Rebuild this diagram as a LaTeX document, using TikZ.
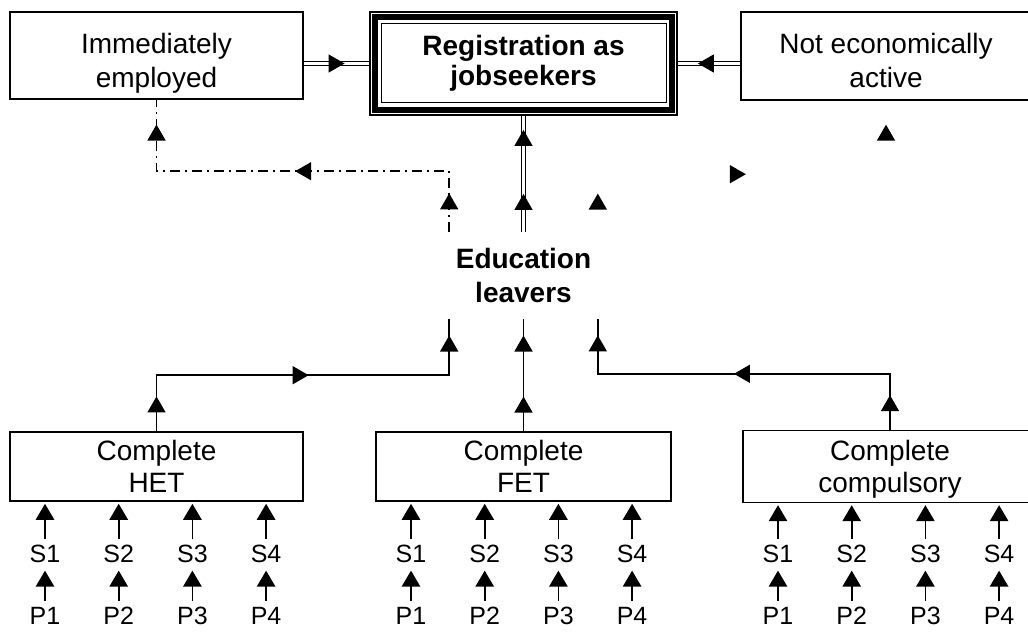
\documentclass[tikz,border=0pt]{standalone}
\usepackage{fontspec}
\setmainfont{Liberation Sans}
\usetikzlibrary{arrows.meta, decorations.markings}

\newcommand{\midtriangle}{\fill[solid] (4pt,0pt) -- (-4pt,4.6pt) -- (-4pt,-4.6pt) -- cycle;}

\begin{document}
\begin{tikzpicture}[x=0.5pt, y=-0.5pt, line width=0.8pt,
        box/.style={draw, align=center, inner sep=2pt, font=\fontsize{14}{17}\selectfont},
        lbl/.style={inner sep=2.5pt, font=\fontsize{12.5}{15}\selectfont},
        up/.style={-{Triangle[length=8pt, width=9.2pt]}, shorten >=1pt},
        dbl/.style={double, double distance=1.1pt, line width=0.6pt},
        dashdot/.style={dash pattern=on 5pt off 2.5pt on 1pt off 2.5pt},
        midtri/.style={postaction={decorate, decoration={markings, mark=at position #1 with {\midtriangle}}}}]
        \useasboundingbox (0,0) rectangle (1028,637);
        \clip (0,0) rectangle (1028,637);

        % top row
        \node[box, minimum width=146.5pt, minimum height=43.5pt] (emp) at (156.5,55.5) {\rule{0pt}{18pt}Immediately\\employed};
        \node[box, minimum width=153.5pt, minimum height=51.5pt, font=\bfseries\fontsize{14}{15}\selectfont] (reg) at (523.5,63.5) {Registration as\\jobseekers};
        \draw[line width=3pt] ([shift={(5.5,5.5)}]reg.north west) rectangle ([shift={(-5.5,-5.5)}]reg.south east);
        \draw[line width=0.6pt] ([shift={(12,12)}]reg.north west) rectangle ([shift={(-11,-13)}]reg.south east);
        \node[box, minimum width=145pt, minimum height=44pt] (nea) at (886,56) {\rule{0pt}{14.7pt}Not economically\\active};

        \node[box, draw=none, minimum width=73.5pt, minimum height=42.5pt, font=\bfseries\fontsize{14}{17}\selectfont] (leav) at (523.5,275.5) {Education\\leavers};

        % bottom row
        \node[box, minimum width=146.5pt, minimum height=34.5pt, font=\fontsize{14}{16}\selectfont] (het) at (156.5,466.5) {Complete\\HET};
        \node[box, minimum width=147.5pt, minimum height=34.5pt, font=\fontsize{14}{16}\selectfont] (fet) at (523.5,466.5) {Complete\\FET};
        \node[box, minimum width=147pt, minimum height=34.5pt, font=\fontsize{14}{16}\selectfont] (comp) at (890,466.5) {\rule{0pt}{13pt}Complete\\compulsory};

        \draw[dbl, midtri=0.5] (reg.west -| emp.east) -- (reg.west);
        \draw[dbl, midtri=0.55] (reg.east -| nea.west) -- (reg.east);
        \draw[dbl, midtri=0.26, midtri=0.81] (leav) -- (reg);
        \draw[dashdot, midtri=0.0725, midtri=0.487, midtri=0.923] (leav.north west) -- ++(0,-61) -| (emp.south);
        \path[midtri=0.073, midtri=0.472, midtri=0.924] (leav.north east) -- ++(0,-58) -| (nea.south);

        \draw[midtri=0.066, midtri=0.494, midtri=0.939] (het.north) -- ++(0,-56) -| (leav.south west);
        \draw[midtri=0.237, midtri=0.78] (fet) -- (leav);
        \draw[midtri=0.066, midtri=0.506, midtri=0.939] (comp.north) -- ++(0,-56) -| (leav.south east);

        \foreach \bx/\x in {het/45, fet/411, comp/778}
            \foreach \n in {1,...,4} {
                \node[lbl] (s\bx\n) at ({\x+73.7*(\n-1)},554) {S\n};
                \node[lbl] (p\bx\n) at ({\x+73.7*(\n-1)},615.5) {P\n};
                \draw[up] (s\bx\n) -- (s\bx\n |- \bx.south);
                \draw[up] (p\bx\n) -- (s\bx\n);
            }
\end{tikzpicture}
\end{document}
